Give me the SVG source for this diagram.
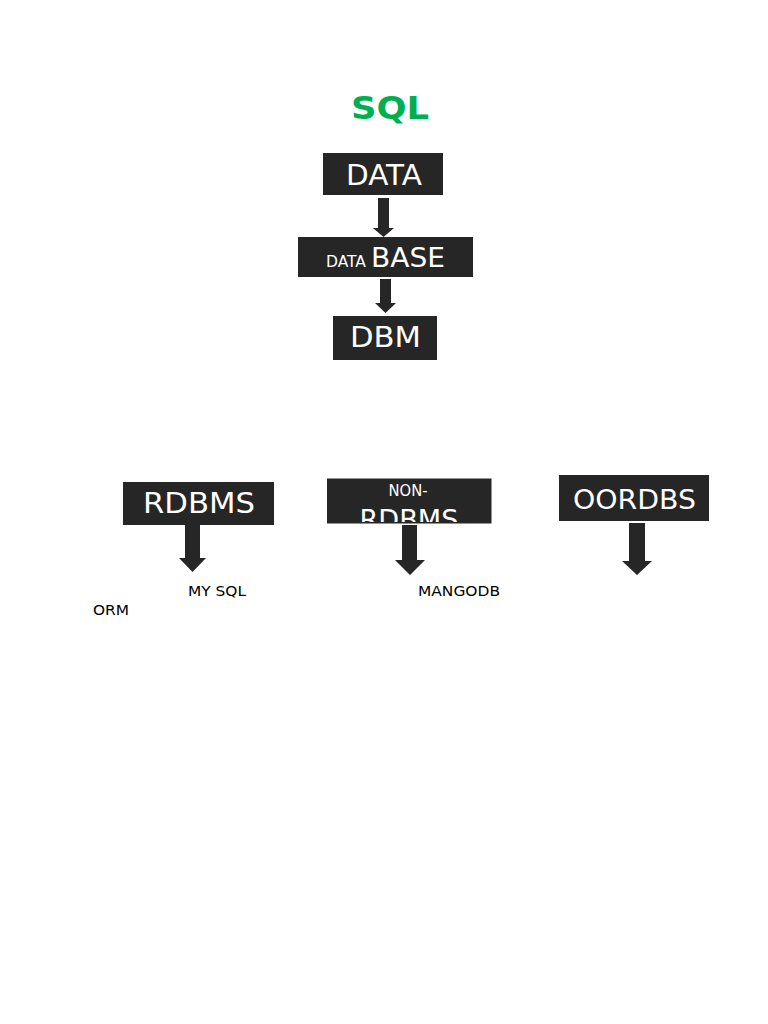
<svg xmlns="http://www.w3.org/2000/svg" width="768" height="1024" viewBox="0 0 768 1024">
<defs>
<style>
.box{fill:#262626}
.arr{fill:#262626}
.t{font-family:"DejaVu Sans",sans-serif;fill:#ffffff}
.lbl{font-family:"DejaVu Sans",sans-serif;fill:#000000;font-size:14.6px}
</style>
<clipPath id="clipNon"><rect x="327" y="479" width="164" height="43"/></clipPath>
</defs>
<rect width="768" height="1024" fill="#ffffff"/>
<text x="351" y="118.5" font-family="DejaVu Sans, sans-serif" font-weight="bold" font-size="32" fill="#00b050" textLength="78" lengthAdjust="spacingAndGlyphs">SQL</text>
<g id="connectors">
<polygon class="arr" points="378,198 389,198 389,228 394,228 383.5,237 373,228 378,228"/>
<polygon class="arr" points="380,279 391,279 391,303 396,303 385.5,313 375,303 380,303"/>
<polygon class="arr" points="185,525 200,525 200,558 206,558 192.5,572 179,558 185,558"/>
<polygon class="arr" points="402,525 417,525 417,560 425,560 410,575 395,560 402,560"/>
<polygon class="arr" points="629,523 645,523 645,561 652,561 637,575 622,561 629,561"/>
</g>
<g id="data">
<rect class="box" x="323" y="153" width="120" height="42"/>
<text class="t" x="346" y="185" font-size="29" textLength="76" lengthAdjust="spacingAndGlyphs">DATA</text>
</g>
<g id="database">
<rect class="box" x="298" y="237" width="175" height="40"/>
<text class="t" x="326" y="267" font-size="15" textLength="40" lengthAdjust="spacingAndGlyphs">DATA</text>
<text class="t" x="371" y="267" font-size="27" textLength="74" lengthAdjust="spacingAndGlyphs">BASE</text>
</g>
<g id="dbm">
<rect class="box" x="333" y="316" width="104" height="44"/>
<text class="t" x="350" y="347" font-size="29" textLength="71" lengthAdjust="spacingAndGlyphs">DBM</text>
</g>
<g id="rdbms">
<rect class="box" x="123" y="482" width="151" height="43"/>
<text class="t" x="143" y="513" font-size="28" textLength="112" lengthAdjust="spacingAndGlyphs">RDBMS</text>
</g>
<g id="nonrdbms">
<rect class="box" x="327" y="478.5" width="164.5" height="45"/>
<text class="t" x="388.5" y="496" font-size="15" textLength="39" lengthAdjust="spacingAndGlyphs">NON-</text>
<text class="t" x="359.5" y="529" font-size="27" textLength="99" lengthAdjust="spacingAndGlyphs" clip-path="url(#clipNon)">RDBMS</text>
</g>
<g id="oordbs">
<rect class="box" x="559" y="475" width="150" height="46"/>
<text class="t" x="573" y="508.5" font-size="26" textLength="123" lengthAdjust="spacingAndGlyphs">OORDBS</text>
</g>
<g id="labels">
<text class="lbl" x="188" y="596" textLength="58" lengthAdjust="spacingAndGlyphs">MY SQL</text>
<text class="lbl" x="418" y="596" textLength="82" lengthAdjust="spacingAndGlyphs">MANGODB</text>
<text class="lbl" x="93" y="615" textLength="36" lengthAdjust="spacingAndGlyphs">ORM</text>
</g>
</svg>
